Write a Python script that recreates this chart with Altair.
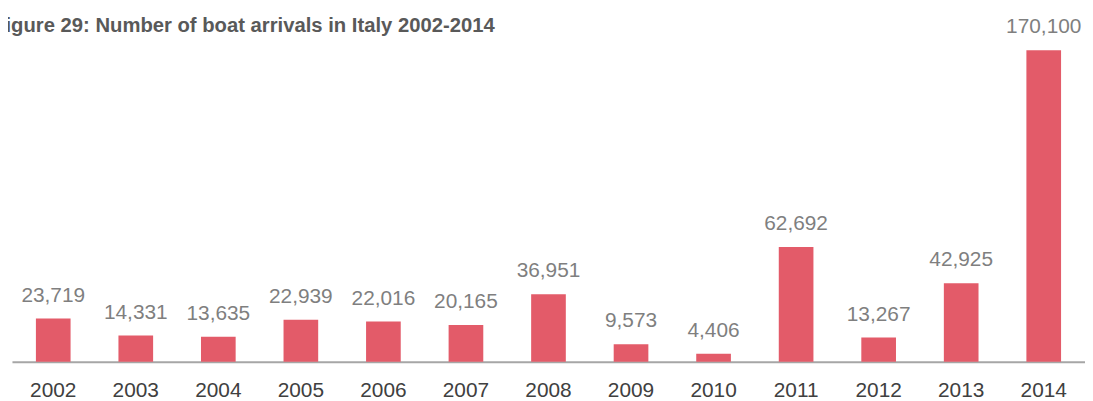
import altair as alt
import pandas as pd

years = ["2002", "2003", "2004", "2005", "2006", "2007", "2008",
         "2009", "2010", "2011", "2012", "2013", "2014"]
arrivals = [23719, 14331, 13635, 22939, 22016, 20165, 36951,
            9573, 4406, 62692, 13267, 42925, 170100]

df = pd.DataFrame({"year": years, "arrivals": arrivals})

x = alt.X("year:N", sort=years, title=None,
          scale=alt.Scale(paddingInner=0.58, paddingOuter=0.29),
          axis=alt.Axis(labelAngle=0, ticks=False, labelFontSize=21,
                        labelColor="#404040", labelFont="Liberation Sans",
                        labelPadding=18, domainColor="#A6A6A6",
                        domainWidth=2, grid=False))
y = alt.Y("arrivals:Q", title=None,
          scale=alt.Scale(domain=[0, 192400], nice=False, zero=True),
          axis=None)

bars = alt.Chart(df).mark_bar(color="#E35B69").encode(x=x, y=y)
labels = alt.Chart(df).mark_text(
    baseline="middle", dy=-23, fontSize=21, color="#7F7F7F",
    font="Liberation Sans"
).encode(x=x, y=y, text=alt.Text("arrivals:Q", format=","))

chart = alt.layer(bars, labels).properties(
    width=1081, height=355,
    autosize=alt.AutoSizeParams(type="none"),
    padding={"left": 4, "top": 0, "right": 0, "bottom": 40},
    title=alt.TitleParams(
        "Figure 29: Number of boat arrivals in Italy 2002-2014",
        anchor="start", frame="group", fontSize=20.4, fontWeight="bold",
        color="#595959", font="Liberation Sans", dx=-19, dy=31, offset=4
    ),
).configure_view(stroke=None)

chart.save("out.html", embed_options={"renderer": "svg", "actions": False})
